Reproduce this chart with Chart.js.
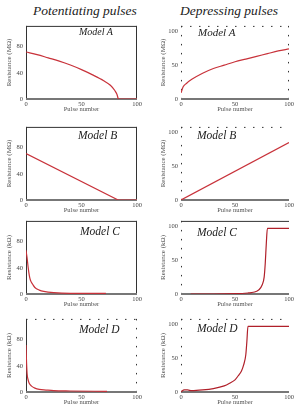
<!DOCTYPE html>
<html>
<head>
<meta charset="utf-8">
<script src="https://cdn.jsdelivr.net/npm/chart.js@4.4.1/dist/chart.umd.min.js"></script>
<style>
  body { margin: 0; background: #fff; width: 297px; height: 410px; position: relative; overflow: hidden; font-family: "Liberation Serif", serif; }
  .panel { position: absolute; }
  .head { position: absolute; font-style: italic; font-size: 13.5px; line-height: 13.5px; color: #222; white-space: nowrap; }
  .model { position: absolute; font-style: italic; font-size: 11.5px; line-height: 11.5px; color: #222; white-space: nowrap; }
</style>
</head>
<body>
<div class="head" style="left:33px;top:4px;">Potentiating pulses</div>
<div class="head" style="left:180px;top:4px;">Depressing pulses</div>

<script>
// Column headings and panel labels
const modelNames = ['Model A', 'Model B', 'Model C', 'Model D'];
const unitLabels = ['Resistance (MΩ)', 'Resistance (MΩ)', 'Resistance (kΩ)', 'Resistance (kΩ)'];

// Tick labels
const pulseTicks = [0, 50, 100];
const potTicks = [0, 40, 80];
const depTicks = [0, 50, 100];

// Potentiating pulses (left column): pulse number / resistance
const potANum = [0, 10, 20, 30, 40, 50, 60, 70, 76, 80, 82, 83, 84, 100];
const potARes = [72, 68, 63, 58, 52, 45, 37, 28, 21, 13, 7, 1, 0, 0];
const potBNum = [0, 83, 100];
const potBRes = [71, 0, 0];
const potCNum = [0, 1, 2, 3, 4, 6, 8, 12, 16, 25, 40, 72];
const potCRes = [67, 55, 40, 28, 21, 15, 10, 6, 4, 2, 1, 1];
const potDNum = [0, 0.5, 1, 2, 3, 5, 8, 12, 18, 25, 40, 73];
const potDRes = [72, 45, 28, 18, 13, 9, 6, 4, 3, 2, 1.5, 1];

// Depressing pulses (right column)
const depANum = [0, 2, 5, 10, 20, 30, 40, 50, 60, 70, 80, 90, 100];
const depARes = [9, 18, 23, 29, 38, 45, 50, 55, 59, 63, 67, 71, 74];
const depBNum = [0, 100];
const depBRes = [0, 85];
const depCNum = [9, 30, 50, 62, 65, 70, 72, 75, 77, 78, 79, 80, 100];
const depCRes = [0, 0, 0.5, 1.5, 2, 4, 6, 13, 25, 45, 75, 97, 97];
const depDNum = [0, 3, 6, 10, 20, 30, 40, 45, 50, 53, 56, 58, 60, 61, 62, 100];
const depDRes = [0.5, 3, 3, 2, 3, 5, 9, 13, 18, 24, 31, 40, 55, 75, 97, 97];

// Frame drawn under the curve: solid or dotted sides, grey base axis
const framePlugin = {
  id: 'frame',
  beforeDatasetsDraw(chart, args, opts) {
    const { ctx, chartArea: a } = chart;
    ctx.save();
    ctx.strokeStyle = '#333';
    ctx.lineWidth = 1;
    const side = (style, x1, y1, x2, y2) => {
      if (!style) return;
      ctx.setLineDash(style === 'dotted' ? [1.5, 7.5] : []);
      ctx.beginPath();
      ctx.moveTo(x1, y1);
      ctx.lineTo(x2, y2);
      ctx.stroke();
    };
    side(opts.top, a.left, a.top + 0.5, a.right, a.top + 0.5);
    side(opts.right, a.right - 0.5, a.top, a.right - 0.5, a.bottom);
    side(opts.left, a.left + 0.5, a.top, a.left + 0.5, a.bottom);
    ctx.setLineDash([]);
    ctx.strokeStyle = '#777';
    ctx.lineWidth = 2;
    ctx.beginPath();
    ctx.moveTo(a.left, a.bottom);
    ctx.lineTo(a.right, a.bottom);
    ctx.stroke();
    ctx.restore();
  }
};

function toPoints(xs, ys) {
  return xs.map((x, i) => ({ x: x, y: ys[i] }));
}

function makePanel(cfg) {
  const box = document.createElement('div');
  box.className = 'panel';
  box.style.left = cfg.left + 'px';
  box.style.top = (cfg.plotTop - 4) + 'px';
  box.style.width = cfg.width + 'px';
  box.style.height = '95px';
  const canvas = document.createElement('canvas');
  box.appendChild(canvas);
  document.body.appendChild(box);

  const label = document.createElement('div');
  label.className = 'model';
  label.textContent = cfg.name;
  label.style.left = cfg.labelX + 'px';
  label.style.top = (cfg.labelY - 6) + 'px';
  if (cfg.labelSize) {
    label.style.fontSize = cfg.labelSize + 'px';
    label.style.lineHeight = cfg.labelSize + 'px';
  }
  document.body.appendChild(label);

  const tickFont = { family: '"Liberation Serif", serif', size: 6.5 };

  new Chart(canvas, {
    type: 'line',
    data: {
      datasets: [{
        data: toPoints(cfg.xs, cfg.ys),
        borderColor: cfg.color,
        borderWidth: 1.2,
        pointRadius: 0,
        cubicInterpolationMode: cfg.straight ? 'default' : 'monotone',
        tension: 0,
        fill: false
      }]
    },
    options: {
      responsive: true,
      maintainAspectRatio: false,
      animation: false,
      events: [],
      layout: { padding: { top: 4, right: cfg.padRight, left: 0, bottom: 0 } },
      scales: {
        x: {
          type: 'linear',
          min: 0,
          max: 100,
          afterBuildTicks: s => { s.ticks = pulseTicks.map(v => ({ value: v })); },
          afterFit: s => { s.height = 15; },
          grid: { display: false, drawTicks: false },
          border: { display: false },
          ticks: { autoSkip: false, maxRotation: 0, padding: 1, color: '#444', font: tickFont },
          title: { display: true, text: 'Pulse number', color: '#555', font: tickFont, padding: { top: 0, bottom: 1 } }
        },
        y: {
          type: 'linear',
          min: 0,
          max: cfg.yMax,
          afterBuildTicks: s => { s.ticks = cfg.yTicks.map(v => ({ value: v })); },
          afterFit: s => { s.width = cfg.axisWidth; },
          grid: { display: false, drawTicks: false },
          border: { display: false },
          ticks: { autoSkip: false, padding: 3, color: '#444', font: tickFont },
          title: { display: true, text: cfg.unit, color: '#555', font: { family: '"Liberation Serif", serif', size: 7 }, padding: { top: cfg.titlePad, bottom: 0 } }
        }
      },
      plugins: {
        legend: { display: false },
        tooltip: { enabled: false },
        frame: cfg.frame
      }
    },
    plugins: [framePlugin]
  });
}

const plotTops = [23, 124, 218, 316];
const potSeries = [[potANum, potARes], [potBNum, potBRes], [potCNum, potCRes], [potDNum, potDRes]];
const depSeries = [[depANum, depARes], [depBNum, depBRes], [depCNum, depCRes], [depDNum, depDRes]];
const potFrames = [
  { top: 'solid', right: 'solid', left: 'solid' },
  { top: 'solid', right: 'solid', left: 'solid' },
  { top: 'solid', right: 'solid', left: 'solid' },
  { top: 'dotted', right: 'dotted', left: 'solid' }
];
const depFrames = [
  { top: 'dotted', right: 'dotted', left: 'dotted' },
  { top: 'dotted', left: 'dotted' },
  { top: 'solid', left: 'dotted' },
  { top: 'dotted', left: 'dotted' }
];
const potLabelPos = [[79, 33, 10], [78, 136], [80, 232], [79, 330]];
const depLabelPos = [[198, 33, 11], [197, 136], [197, 233], [197, 329]];

for (let i = 0; i < 4; i++) {
  makePanel({
    left: 0, width: 145, padRight: 8, axisWidth: 26, titlePad: 4.5,
    plotTop: plotTops[i], yMax: 112, yTicks: potTicks,
    xs: potSeries[i][0], ys: potSeries[i][1], straight: i === 1,
    color: '#c8323a', frame: potFrames[i],
    name: modelNames[i], unit: unitLabels[i],
    labelX: potLabelPos[i][0], labelY: potLabelPos[i][1], labelSize: potLabelPos[i][2]
  });
  makePanel({
    left: 148, width: 149, padRight: 8, axisWidth: 33, titlePad: 10.5,
    plotTop: plotTops[i], yMax: 108, yTicks: depTicks,
    xs: depSeries[i][0], ys: depSeries[i][1], straight: i === 1,
    color: i < 2 ? '#c8323a' : '#b0202a', frame: depFrames[i],
    name: modelNames[i], unit: unitLabels[i],
    labelX: depLabelPos[i][0], labelY: depLabelPos[i][1], labelSize: depLabelPos[i][2]
  });
}
</script>
</body>
</html>
